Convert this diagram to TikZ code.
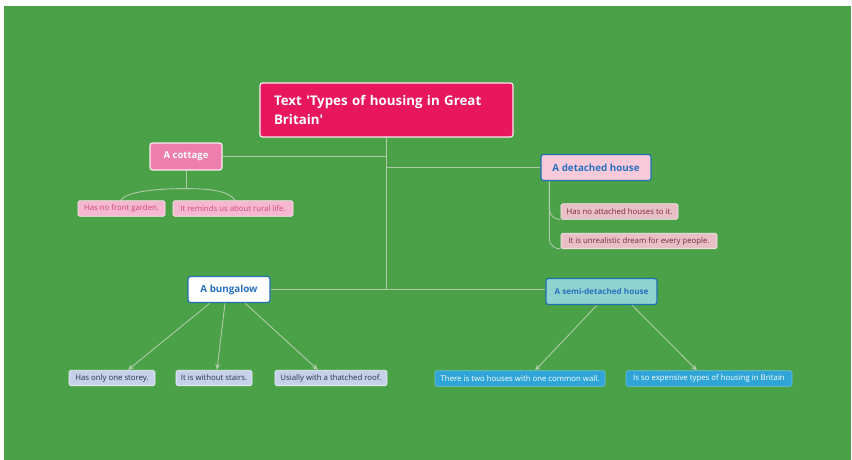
\documentclass[tikz,border=0pt]{standalone}
\usepackage{fontspec}
\setmainfont{Open Sans}
\usetikzlibrary{arrows.meta}
\pgfdeclarelayer{bottom}
\pgfdeclarelayer{background}
\pgfsetlayers{bottom,background,main}
\definecolor{bg}{HTML}{4AA147}
\definecolor{crim}{HTML}{E8175D}
\definecolor{cotpink}{HTML}{EE7EAB}
\definecolor{lpink}{HTML}{F5B8D0}
\definecolor{lpinktxt}{HTML}{D2477E}
\definecolor{detfill}{HTML}{F8CADA}
\definecolor{bluebd}{HTML}{1F6FB5}
\definecolor{bluetx}{HTML}{2870C0}
\definecolor{detchild}{HTML}{E9BFC8}
\definecolor{detchildtx}{HTML}{7A2838}
\definecolor{lav}{HTML}{C6D2EA}
\definecolor{lavtx}{HTML}{2A2F45}
\definecolor{semifill}{HTML}{8FD3CF}
\definecolor{semichild}{HTML}{2EA5D6}
\definecolor{ln}{HTML}{AFCAA8}
\begin{document}
\begin{tikzpicture}[x=1pt,y=-1pt,
  box/.style={rounded corners=2.5pt, inner sep=0pt, align=center, line width=1.2pt},
  mainbox/.style={box, fill=crim, draw=white!90!crim, text=white, font=\fontsize{13.3}{19}\selectfont\bfseries, align=left, minimum width=253pt, minimum height=54pt, text width=225pt},
  cotbox/.style={box, fill=cotpink, draw=white!85!cotpink, text=white, font=\fontsize{9.5}{11}\selectfont\bfseries, minimum width=72pt, minimum height=27pt},
  topicbox/.style={box, draw=bluebd, text=bluetx, font=\fontsize{9.8}{11}\selectfont\bfseries, minimum height=26pt},
  leaf/.style={rounded corners=1.5pt, inner sep=0pt, font=\fontsize{7.8}{9}\selectfont, minimum height=15.5pt, line width=0.6pt},
  lk/.style={draw=ln, line width=0.9pt},
  ar/.style={lk, -{Stealth[length=6pt,width=5pt]}}
]
\useasboundingbox (0,0) rectangle (852,460);
\begin{pgfonlayer}{bottom}
\fill[white] (0,0) rectangle (852,460);
\fill[bg] (4,6) rectangle (851,460);
\end{pgfonlayer}

\node[mainbox] (main) at (386.5,110) {Text \textquotesingle Types of housing in Great\\Britain\textquotesingle};
\node[cotbox] (cot) at (186,156.5) {A cottage};
\node[topicbox, fill=detfill, minimum width=110pt] (det) at (596,167.5) {A detached house};
\node[topicbox, fill=white, minimum width=82pt] (bun) at (229,289.5) {A bungalow};
\node[topicbox, fill=semifill, minimum width=111pt, font=\fontsize{8.1}{10}\selectfont\bfseries] (semi) at (601.5,291.5) {A semi-detached house};

\node[leaf, fill=lpink, draw=white!70!lpink, text=lpinktxt, minimum width=87pt] (c1) at (121.5,208.5) {Has no front garden.};
\node[leaf, fill=lpink, draw=white!70!lpink, text=lpinktxt, minimum width=120pt] (c2) at (233,208.5) {It reminds us about rural life.};

\node[leaf, fill=detchild, draw=white!70!detchild, text=detchildtx, minimum width=117pt] (d1) at (619.5,211.5) {Has no attached houses to it.};
\node[leaf, fill=detchild, draw=white!70!detchild, text=detchildtx, minimum width=156pt] (d2) at (639,241) {It is unrealistic dream for every people.};

\node[leaf, fill=lav, draw=white!70!lav, text=lavtx, minimum width=86pt] (b1) at (112,378) {Has only one storey.};
\node[leaf, fill=lav, draw=white!70!lav, text=lavtx, minimum width=76pt] (b2) at (214,378) {It is without stairs.};
\node[leaf, fill=lav, draw=white!70!lav, text=lavtx, minimum width=112pt] (b3) at (331,378) {Usially with a thatched roof.};

\node[leaf, fill=semichild, draw=semichild!70!white, text=white, minimum width=170pt] (s1) at (520,378.5) {There is two houses with one common wall.};
\node[leaf, fill=semichild, draw=semichild!70!white, text=white, minimum width=166pt] (s2) at (709,378.5) {Is so expensive types of housing in Britain};

\coordinate (hubb) at (main.south |- bun.east);
\coordinate (hubc) at (main.south |- cot.east);
\coordinate (hubd) at (main.south |- det.west);
\coordinate (cotj) at ([yshift=-18pt]cot.south);
\coordinate (detx) at ([xshift=9pt]det.south west);

\begin{pgfonlayer}{background}
\draw[lk] (main.south) -- (hubb);
\draw[lk] (bun.east) -- (hubb) -- (hubb -| semi.west);
\draw[lk] (cot.east) -- (hubc);
\draw[lk] (hubd) -- (det.west);
\draw[lk] (cot.south) -- (cotj);
\draw[lk] ([xshift=-1pt]c1.north) .. controls ([xshift=5pt,yshift=9pt]c1.north) and ([xshift=-30pt]cotj) .. (cotj)
  .. controls ([xshift=30pt]cotj) and ([xshift=-3pt,yshift=8pt]c2.north) .. ([xshift=2pt]c2.north);
\draw[lk] (detx) -- ([yshift=10pt]detx |- d1.south west) to[out=-90,in=180] (d1.south west);
\draw[lk] (detx) -- ([yshift=10pt]detx |- d2.south west) to[out=-90,in=180] (d2.south west);
\draw[ar] ([xshift=-19pt]bun.south) -- ([xshift=16pt]b1.north);
\draw[ar] ([xshift=-4pt]bun.south) -- ([xshift=3pt]b2.north);
\draw[ar] ([xshift=16pt]bun.south) -- ([xshift=-13pt]b3.north);
\draw[ar] ([xshift=-4.5pt]semi.south) -- ([xshift=15pt]s1.north);
\draw[ar] ([xshift=30.5pt]semi.south) -- ([xshift=-12pt]s2.north);
\end{pgfonlayer}
\end{tikzpicture}
\end{document}
